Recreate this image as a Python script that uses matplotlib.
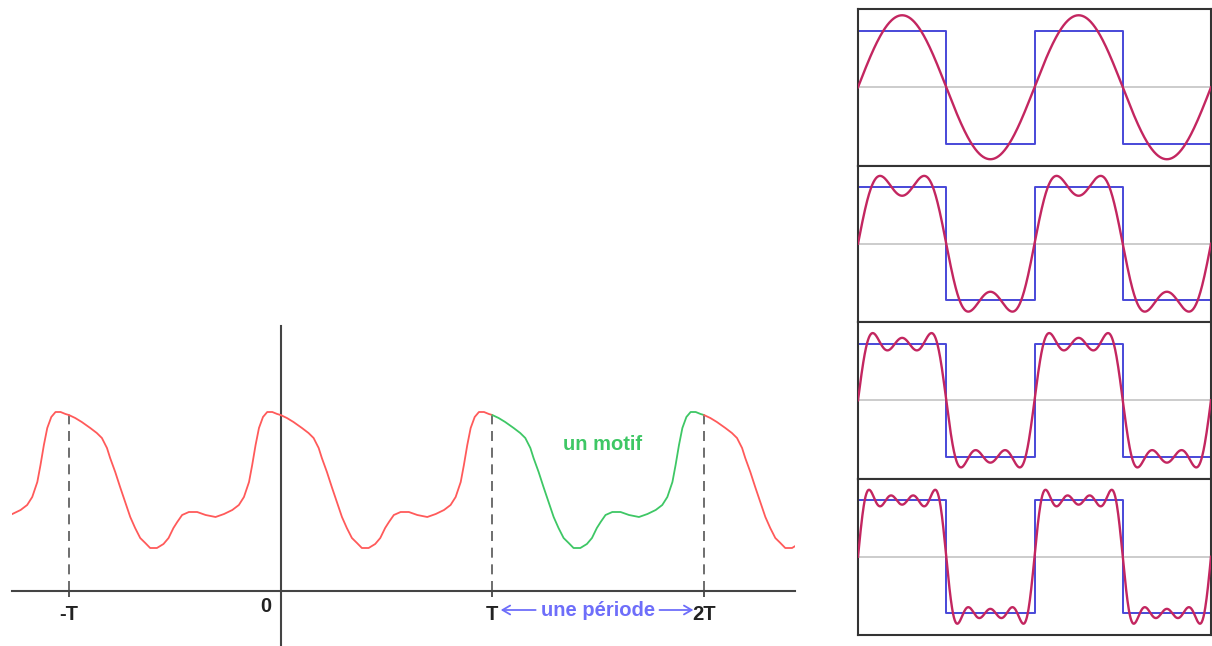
import numpy as np
import matplotlib
matplotlib.use("Agg")
import matplotlib.pyplot as plt

# ---- data: one motif of the periodic signal (t in units of T) ----
motif_t = [0.000, 0.030, 0.061, 0.101, 0.132, 0.156, 0.180, 0.195, 0.219, 0.242,
           0.266, 0.290, 0.313, 0.337, 0.361, 0.384, 0.416, 0.447, 0.471, 0.494,
           0.512, 0.535, 0.567, 0.606, 0.646, 0.693, 0.733, 0.772, 0.803, 0.827,
           0.851, 0.866, 0.882, 0.898, 0.917, 0.937, 0.961, 0.984, 1.000]
motif_y = [176, 173, 169, 163, 158, 153, 143, 133, 119, 104,
           89, 74, 63, 53, 48, 43, 43, 47, 53, 63,
           69, 76, 79, 79, 76, 74, 77, 81, 86, 94,
           109, 126, 146, 163, 174, 179, 179, 177, 176]
periods = [-2, -1, 0, 1, 2]
motif_period = 1          # the highlighted motif, from T to 2T
tick_pos = [-1, 1, 2]
tick_labels = ["-T", "T", "2T"]

# ---- data: square wave and its Fourier partial sums ----
square_x = [0.0, 0.5, 1.0, 1.5, 2.0]
square_y = [1, -1, 1, -1, -1]
harmonics = [1, 3, 5, 7]
coefs = [4 / np.pi, 4 / (3 * np.pi), 4 / (5 * np.pi), 4 / (7 * np.pi)]
n_terms = [1, 2, 3, 4]

RED = "#ff5a5a"
GREEN = "#3ec765"
BLUE_TXT = "#6e6efa"
SQ_BLUE = "#4848d8"
FOURIER = "#c32660"

W, H = 1212, 646
fig = plt.figure(figsize=(W / 100, H / 100), dpi=100)
plt.rcParams['font.family'] = ['Liberation Sans', 'DejaVu Sans']

# ---------------- left chart ----------------
x0_px, x1_px = 11.7, 795
y_top_px = 326
ax = fig.add_axes([x0_px / W, 0, (x1_px - x0_px) / W, (H - y_top_px) / H])
ax.set_xlim(-1.27, 2.43)
ax.set_ylim(-55, 265)
ax.patch.set_alpha(0)

mt = np.array(motif_t)
my = np.array(motif_y)
for k in periods:
    col = GREEN if k == motif_period else RED
    ax.plot(mt + k, my, color=col, lw=1.3, solid_capstyle='round',
            solid_joinstyle='round', zorder=3)

ax.vlines(tick_pos, 0, motif_y[0], colors="#555555", linestyles=(0, (6, 4)), lw=1.2, zorder=2)

for s in ("top", "right"):
    ax.spines[s].set_visible(False)
for s in ("left", "bottom"):
    ax.spines[s].set_position(("data", 0))
    ax.spines[s].set_color("#444444")
    ax.spines[s].set_linewidth(1.5)
ax.set_yticks([])
ax.set_xticks(tick_pos)
ax.set_xticklabels(tick_labels, fontsize=14.5, fontweight="bold", color="#222222")
ax.tick_params(axis="x", direction="out", length=4, width=1.3, color="#444444", pad=6)

ax.annotate("0", xy=(0, 0), xytext=(-10.5, -11.5), textcoords="offset points",
            ha="center", va="center", fontsize=14.5, fontweight="bold", color="#222222")
ax.text(1.5, -19, "une période", ha="center", va="center", fontsize=14.5,
        fontweight="bold", color=BLUE_TXT)
arrow_style = "->,head_length=0.55,head_width=0.32"
ax.annotate("", xy=(1.04, -19), xytext=(1.205, -19),
            arrowprops=dict(arrowstyle=arrow_style, color=BLUE_TXT, lw=1.3, shrinkA=0, shrinkB=0))
ax.annotate("", xy=(1.95, -19), xytext=(1.79, -19),
            arrowprops=dict(arrowstyle=arrow_style, color=BLUE_TXT, lw=1.3, shrinkA=0, shrinkB=0))
ax.text(1.52, 147, "un motif", ha="center", va="center", fontsize=14.5,
        fontweight="bold", color=GREEN)

# ---------------- right panels ----------------
px_left, px_right = 858, 1211
top, bottom = 9, 635
ph = (bottom - top) / len(n_terms)
xs = np.linspace(0, 2, 800)
for i, n in enumerate(n_terms):
    ptop = top + i * ph
    a = fig.add_axes([px_left / W, (H - ptop - ph) / H, (px_right - px_left) / W, ph / H])
    a.set_xlim(0, 2)
    a.set_ylim(-1.384, 1.384)
    a.axhline(0, color="#c8c8c8", lw=1.3, zorder=1)
    a.step(square_x, square_y, where="post", color=SQ_BLUE, lw=1.4, zorder=2)
    ys = np.zeros_like(xs)
    for h, c in zip(harmonics[:n], coefs[:n]):
        ys += c * np.sin(2 * np.pi * h * xs)
    a.plot(xs, ys, color=FOURIER, lw=1.7, zorder=3)
    a.set_xticks([])
    a.set_yticks([])
    for s in a.spines.values():
        s.set_color("#333333")
        s.set_linewidth(1.5)

fig.savefig("out.png", dpi=100)
